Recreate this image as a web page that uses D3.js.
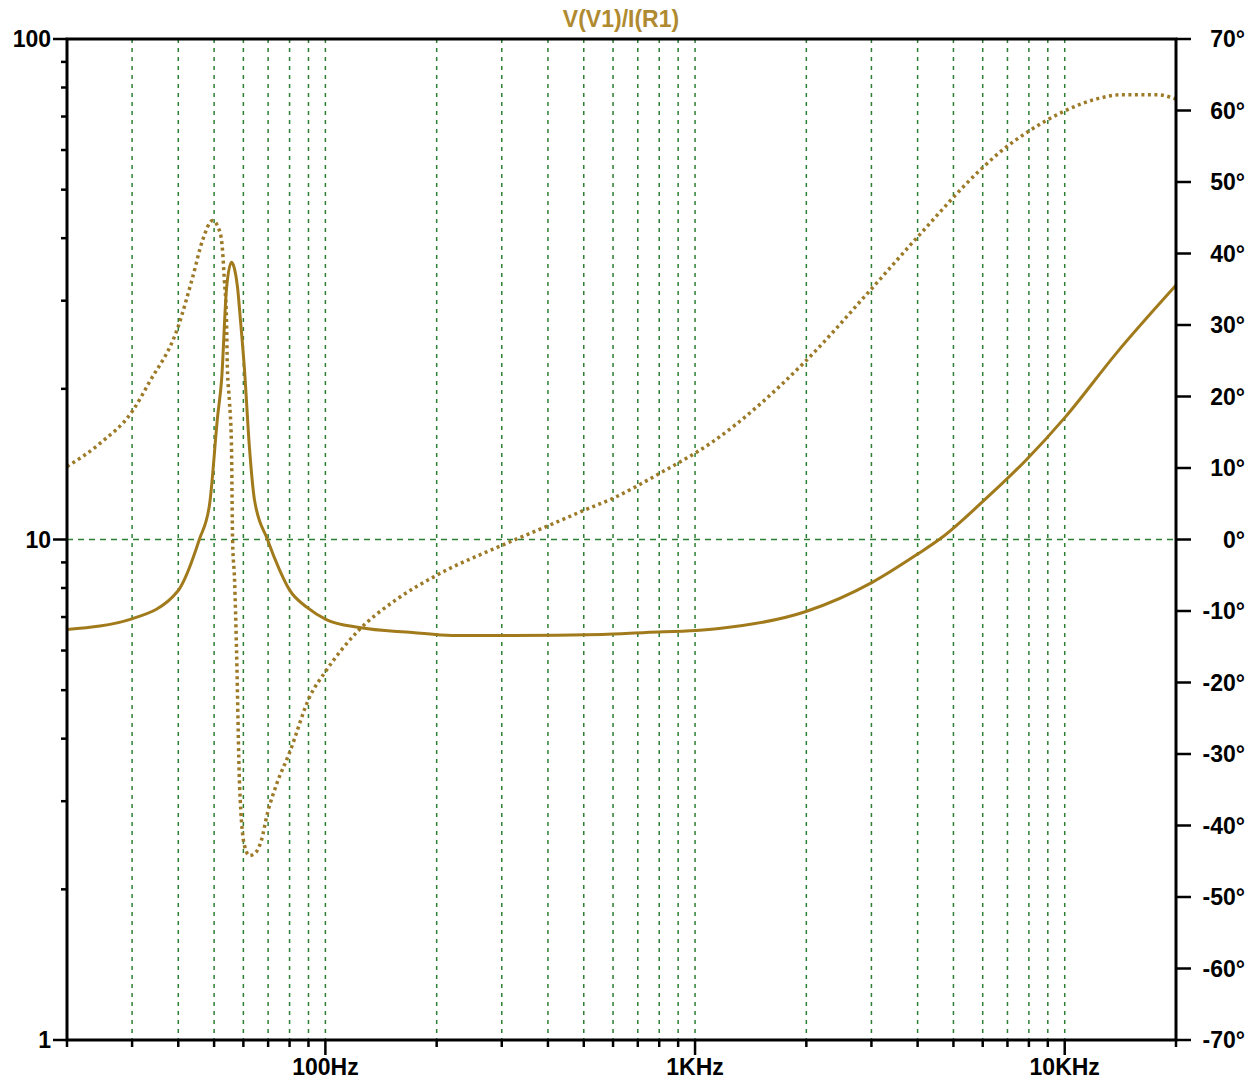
<!DOCTYPE html>
<html>
<head>
<meta charset="utf-8">
<script src="https://cdn.jsdelivr.net/npm/d3@7"></script>
<style>
  body { margin: 0; background: #fff; }
  text { font-family: "Liberation Sans", Arial, sans-serif; font-weight: bold; }
</style>
</head>
<body>
<svg id="chart" width="1254" height="1080"></svg>
<script>
// impedance magnitude |V(V1)/I(R1)| (ohms)
const magFreq = [20, 30.1, 39.8, 45.6, 48.6, 51.1, 52.4, 54.0, 55.7, 56.8, 57.8, 58.9, 60.4, 62.3, 64.3, 69.7, 75.1, 79.9, 89.4, 100.6, 123.5, 172, 220, 320, 560, 737, 1006, 1161, 1995, 3006, 3981, 4652, 5967, 7889, 10060, 13820, 20000]
const magValues = [6.61, 6.95, 7.87, 10.0, 11.75, 17.6, 20.9, 31.6, 35.8, 34.7, 32.1, 27.5, 21.9, 15.3, 12.0, 10.0, 8.71, 7.94, 7.31, 6.92, 6.67, 6.52, 6.43, 6.43, 6.46, 6.52, 6.58, 6.64, 7.18, 8.2, 9.33, 10.09, 11.86, 14.45, 17.6, 23.6, 32.2]

// phase in degrees (right axis)
const phaseFreq = [20, 24.5, 30.1, 33.4, 39.8, 43.7, 46.5, 49.5, 51.7, 52.7, 53.3, 54.0, 54.3, 55.0, 55.7, 56.1, 56.8, 57.5, 58.6, 60.4, 62.3, 64.7, 67.1, 69.7, 73.7, 80, 90.5, 100.6, 122, 155.6, 199.5, 300.8, 395.5, 507, 596, 799, 1111, 1995, 3006, 3981, 5967, 6756, 7990, 10060, 12360, 14260, 17950, 19460, 20000]
const phaseValues = [10.2, 13.4, 18.0, 22.0, 29.5, 36.6, 41.8, 44.6, 43.2, 40.4, 36.2, 31.0, 24.1, 19.4, 13.4, -0.1, -5.7, -15.5, -34.4, -42.8, -44.2, -43.8, -42.1, -38.3, -34.3, -29.8, -22.1, -18.3, -12.9, -8.4, -5.03, -0.8, 1.8, 4.2, 5.7, 9.2, 13.6, 25.0, 35.1, 42.2, 51.9, 54.4, 57.1, 60.0, 61.7, 62.2, 62.2, 61.8, 61.6]

// ticks
const xMajorTicks = [100, 1000, 10000]
const xMajorLabels = ["100Hz", "1KHz", "10KHz"]
const xMinorTicks = [30, 40, 50, 60, 70, 80, 90, 200, 300, 400, 500, 600, 700, 800, 900,
    2000, 3000, 4000, 5000, 6000, 7000, 8000, 9000]
const yMajorTicks = [1, 10, 100]
const yMajorLabels = ["1", "10", "100"]
const yMinorTicks = [2, 3, 4, 5, 6, 7, 8, 9, 20, 30, 40, 50, 60, 70, 80, 90]
const phaseTicks = [-70, -60, -50, -40, -30, -20, -10, 0, 10, 20, 30, 40, 50, 60, 70]

const svg = d3.select("#chart")

const plotLeft = 67, plotRight = 1176, plotTop = 39, plotBottom = 1040
const traceColor = "#a17a1c"
const gridColor = "#2c7f33"

const x = d3.scaleLog().domain([20, 20000]).range([plotLeft, plotRight])
const y = d3.scaleLog().domain([1, 100]).range([plotBottom, plotTop])
const yPhase = d3.scaleLinear().domain([-70, 70]).range([plotBottom, plotTop])

// grid
const grid = svg.append("g")
grid.selectAll("line.v")
    .data(xMinorTicks.concat(xMajorTicks))
    .enter()
    .append("line")
    .attr("x1", d => x(d)).attr("x2", d => x(d))
    .attr("y1", plotTop).attr("y2", plotBottom)
    .attr("stroke", gridColor)
    .attr("stroke-width", 1.5)
    .attr("stroke-dasharray", "4,5")

grid.append("line")
    .attr("x1", plotLeft).attr("x2", plotRight)
    .attr("y1", y(10)).attr("y2", y(10))
    .attr("stroke", gridColor)
    .attr("stroke-width", 1.5)
    .attr("stroke-dasharray", "6,5")

// curves
const magLine = d3.line()
    .x((d, i) => x(magFreq[i]))
    .y(d => y(d))
    .curve(d3.curveMonotoneX)

const phaseLine = d3.line()
    .x((d, i) => x(phaseFreq[i]))
    .y(d => yPhase(d))
    .curve(d3.curveMonotoneX)

svg.append("path")
    .attr("d", phaseLine(phaseValues))
    .attr("fill", "none")
    .attr("stroke", "#9c7a28")
    .attr("stroke-width", 3.5)
    .attr("stroke-dasharray", "3,3.5")

svg.append("path")
    .attr("d", magLine(magValues))
    .attr("fill", "none")
    .attr("stroke", traceColor)
    .attr("stroke-width", 3)

// frame
svg.append("rect")
    .attr("x", plotLeft).attr("y", plotTop)
    .attr("width", plotRight - plotLeft).attr("height", plotBottom - plotTop)
    .attr("fill", "none")
    .attr("stroke", "#000")
    .attr("stroke-width", 3)

const ticks = svg.append("g").attr("stroke", "#000").attr("stroke-width", 2.5)

// left axis ticks
ticks.selectAll("line.ly")
    .data(yMinorTicks)
    .enter().append("line")
    .attr("x1", plotLeft - 6).attr("x2", plotLeft)
    .attr("y1", d => y(d)).attr("y2", d => y(d))
ticks.selectAll("line.lY")
    .data(yMajorTicks)
    .enter().append("line")
    .attr("x1", plotLeft - 14).attr("x2", plotLeft)
    .attr("y1", d => y(d)).attr("y2", d => y(d))

// bottom axis ticks
ticks.selectAll("line.bx")
    .data(xMinorTicks)
    .enter().append("line")
    .attr("x1", d => x(d)).attr("x2", d => x(d))
    .attr("y1", plotBottom).attr("y2", plotBottom + 7)
ticks.selectAll("line.bX")
    .data(xMajorTicks)
    .enter().append("line")
    .attr("x1", d => x(d)).attr("x2", d => x(d))
    .attr("y1", plotBottom).attr("y2", plotBottom + 15)
ticks.append("line")
    .attr("x1", plotLeft).attr("x2", plotLeft).attr("y1", plotBottom).attr("y2", plotBottom + 7)
ticks.append("line")
    .attr("x1", plotRight).attr("x2", plotRight).attr("y1", plotBottom).attr("y2", plotBottom + 7)

// right axis ticks
ticks.selectAll("line.rp")
    .data(phaseTicks)
    .enter().append("line")
    .attr("x1", plotRight).attr("x2", plotRight + 15)
    .attr("y1", d => yPhase(d)).attr("y2", d => yPhase(d))

// labels
svg.selectAll("text.ylab")
    .data(yMajorTicks)
    .enter().append("text")
    .attr("x", plotLeft - 16)
    .attr("y", d => y(d))
    .attr("dy", "0.36em")
    .attr("text-anchor", "end")
    .attr("font-size", 23)
    .text((d, i) => yMajorLabels[i])

svg.selectAll("text.xlab")
    .data(xMajorTicks)
    .enter().append("text")
    .attr("x", d => x(d))
    .attr("y", plotBottom + 35)
    .attr("text-anchor", "middle")
    .attr("font-size", 23)
    .text((d, i) => xMajorLabels[i])

svg.selectAll("text.plab")
    .data(phaseTicks)
    .enter().append("text")
    .attr("x", 1245)
    .attr("y", d => yPhase(d))
    .attr("dy", "0.36em")
    .attr("text-anchor", "end")
    .attr("font-size", 23)
    .text(d => d + "°")

svg.append("text")
    .attr("x", 621)
    .attr("y", 27)
    .attr("text-anchor", "middle")
    .attr("font-size", 23)
    .attr("fill", "#b08a30")
    .text("V(V1)/I(R1)")
</script>
</body>
</html>
